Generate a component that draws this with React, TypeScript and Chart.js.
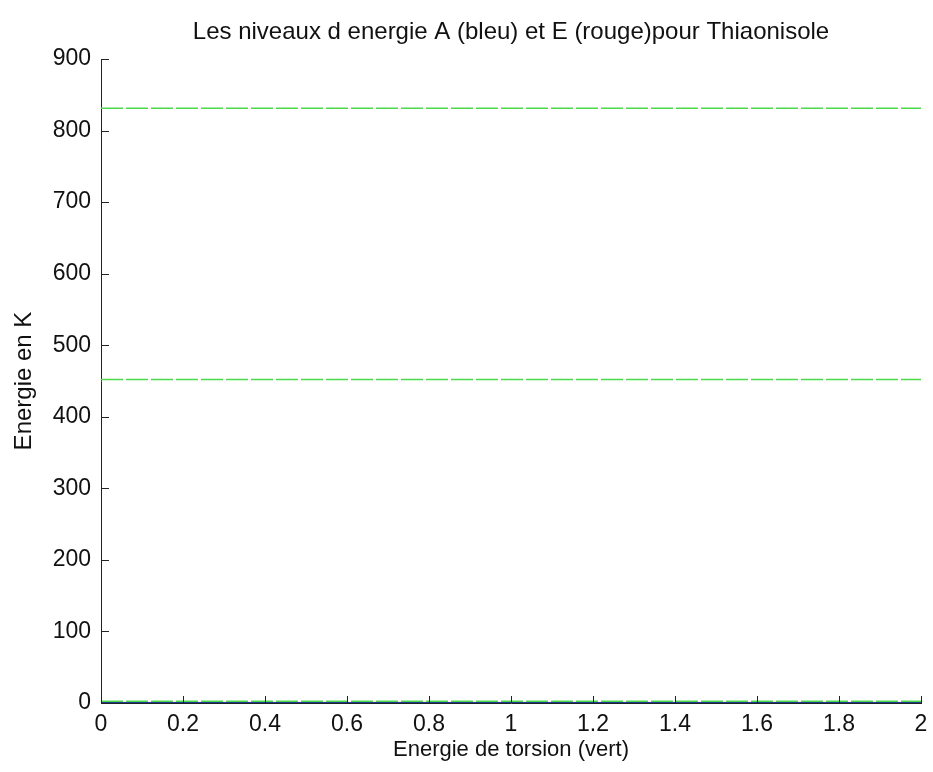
import React, { useEffect, useRef } from "react";
import { Chart, registerables } from "chart.js";

Chart.register(...registerables);

// Torsion energy range (x) and the energy levels (K) plotted as horizontal lines
const torsionRange: number[] = [0, 2];
const greenLevels: number[] = [831, 452, 2.5];
const blueLevels: number[] = [0];

const xTicks: number[] = [0, 0.2, 0.4, 0.6, 0.8, 1, 1.2, 1.4, 1.6, 1.8, 2];
const yTicks: number[] = [0, 100, 200, 300, 400, 500, 600, 700, 800, 900];

const titleText = "Les niveaux d energie A (bleu) et E (rouge)pour Thiaonisole";
const xTitle = "Energie de torsion (vert)";
const yTitle = "Energie en K";

const FONT = "'Liberation Sans', Arial, Helvetica, sans-serif";
const INK = "#111111";

const levelLine = (value: number) =>
  torsionRange.map((x) => ({ x, y: value }));

// Inward tick marks and the centred plot title
const axesDecor = {
  id: "axesDecor",
  afterDatasetsDraw(chart: any) {
    const { ctx, chartArea, scales } = chart;
    const xs = scales.x;
    const ys = scales.y;
    ctx.save();
    ctx.strokeStyle = "#222222";
    ctx.lineWidth = 1;
    ctx.beginPath();
    for (const v of yTicks) {
      const py = Math.round(ys.getPixelForValue(v)) + 0.5;
      ctx.moveTo(chartArea.left, py);
      ctx.lineTo(chartArea.left + 8, py);
    }
    for (const v of xTicks) {
      const px = Math.round(xs.getPixelForValue(v)) + 0.5;
      ctx.moveTo(px, chartArea.bottom);
      ctx.lineTo(px, chartArea.bottom - 7);
    }
    ctx.stroke();
    ctx.restore();
  },
  afterDraw(chart: any) {
    const { ctx, chartArea } = chart;
    ctx.save();
    ctx.fillStyle = INK;
    ctx.font = `24px ${FONT}`;
    ctx.textAlign = "center";
    ctx.textBaseline = "middle";
    ctx.fillText(titleText, (chartArea.left + chartArea.right) / 2, 32);
    ctx.restore();
  },
};

export default function App() {
  const canvasRef = useRef<HTMLCanvasElement | null>(null);

  useEffect(() => {
    const canvas = canvasRef.current;
    if (!canvas) return;

    const datasets: any[] = [
      ...greenLevels.map((v) => ({
        data: levelLine(v),
        borderColor: "#4ada4a",
        borderWidth: 1.5,
        borderDash: [22, 3],
        pointRadius: 0,
        fill: false,
      })),
      ...blueLevels.map((v) => ({
        data: levelLine(v),
        borderColor: "#1c3b8f",
        borderWidth: 2,
        pointRadius: 0,
        fill: false,
      })),
    ];

    const chart = new Chart(canvas, {
      type: "line",
      data: { datasets },
      plugins: [axesDecor],
      options: {
        responsive: false,
        animation: false,
        layout: { padding: { top: 59, right: 12, left: 0, bottom: 0 } },
        plugins: {
          legend: { display: false },
          tooltip: { enabled: false },
          title: { display: false },
        },
        scales: {
          x: {
            type: "linear",
            min: 0,
            max: 2,
            afterBuildTicks: (scale: any) => {
              scale.ticks = xTicks.map((value) => ({ value }));
            },
            afterFit: (scale: any) => {
              scale.height = 69;
              scale.paddingRight = 0;
              scale.paddingLeft = 0;
            },
            grid: { display: false, drawTicks: false },
            border: { display: true, color: "#222222", width: 1 },
            ticks: {
              color: INK,
              font: { family: FONT, size: 23 },
              padding: 8,
              maxRotation: 0,
              autoSkip: false,
              callback: (v: any) => String(Number(Number(v).toFixed(1))),
            },
            title: {
              display: true,
              text: xTitle,
              color: INK,
              font: { family: FONT, size: 22 },
              padding: { top: 0, bottom: 9 },
            },
          },
          y: {
            type: "linear",
            min: 0,
            max: 900,
            afterBuildTicks: (scale: any) => {
              scale.ticks = yTicks.map((value) => ({ value }));
            },
            afterFit: (scale: any) => {
              scale.width = 101;
            },
            grid: { display: false, drawTicks: false },
            border: { display: true, color: "#222222", width: 1 },
            ticks: {
              color: INK,
              font: { family: FONT, size: 23 },
              padding: 10,
              autoSkip: false,
            },
            title: {
              display: true,
              text: yTitle,
              color: INK,
              font: { family: FONT, size: 24 },
              padding: { top: 10, bottom: 0 },
            },
          },
        },
      },
    });

    return () => chart.destroy();
  }, []);

  return (
    <div style={{ position: "absolute", left: 0, top: 0, width: 933, height: 772, background: "#ffffff" }}>
      <canvas ref={canvasRef} width={933} height={772} />
    </div>
  );
}
